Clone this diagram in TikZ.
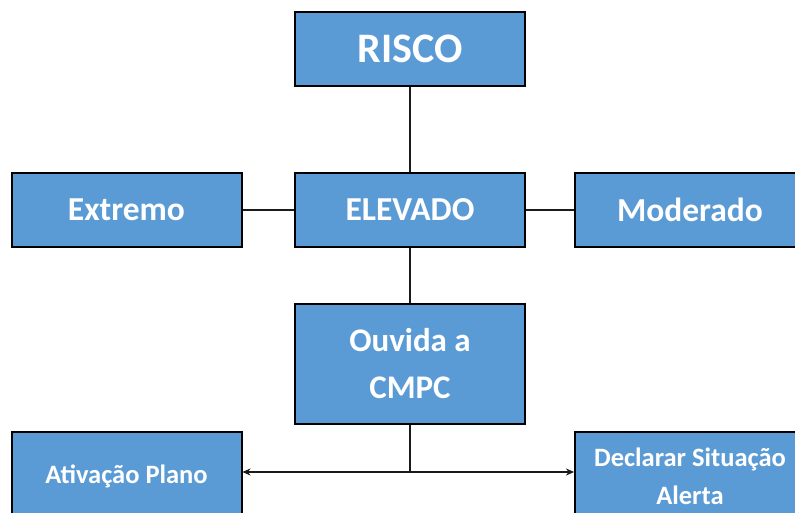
\documentclass[tikz,border=0pt]{standalone}
\usepackage{fontspec}
\setsansfont{Carlito}
\usetikzlibrary{arrows.meta}
\definecolor{boxblue}{HTML}{5B9BD5}
\definecolor{edge}{HTML}{1A1A1A}
\tikzset{
  box/.style={draw=black, line width=2pt, fill=boxblue, text=white, minimum width=230pt, minimum height=74pt, inner sep=0pt, font=\sffamily\bfseries\fontsize{33.5}{40}\selectfont, align=center},
  conn/.style={draw=edge, line width=1.8pt},
  arr/.style={conn, -{Stealth[length=8pt,width=7pt]}}
}
\begin{document}
\begin{tikzpicture}[x=1pt,y=-1pt]
\useasboundingbox (0,0) rectangle (795,512);
\clip (0,0) rectangle (795,512);
\node[box, font=\sffamily\bfseries\fontsize{42}{48}\selectfont] (risco) at (410,48.5) {RISCO};
\node[box] (elev) at (410,210) {ELEVADO};
\node[box] (ext) at (126.5,210) {Extremo};
\node[box] (mod) at (690,210) {Moderado};
\node[box, minimum height=120pt, font=\sffamily\bfseries\fontsize{33}{47}\selectfont] (ouv) at (410,364) {\raisebox{-3pt}{Ouvida a}\\\raisebox{-3pt}{CMPC}};
\node[box, minimum height=88pt, font=\sffamily\bfseries\fontsize{26.5}{38}\selectfont] (ativ) at (126.5,476) {\raisebox{-2pt}{Ativação Plano}};
\node[box, minimum height=88pt, font=\sffamily\bfseries\fontsize{26.5}{38}\selectfont] (decl) at (690,476) {Declarar Situação\\Alerta};
\coordinate (j) at (410,472);
\draw[conn] (risco.south) -- (elev.north);
\draw[conn] (ext.east) -- (elev.west);
\draw[conn] (elev.east) -- (mod.west);
\draw[conn] (elev.south) -- (ouv.north);
\draw[conn] (ouv.south) -- (j);
\draw[arr] (j) -- (ativ.east |- j);
\draw[arr] (j) -- (decl.west |- j);
\end{tikzpicture}
\end{document}
